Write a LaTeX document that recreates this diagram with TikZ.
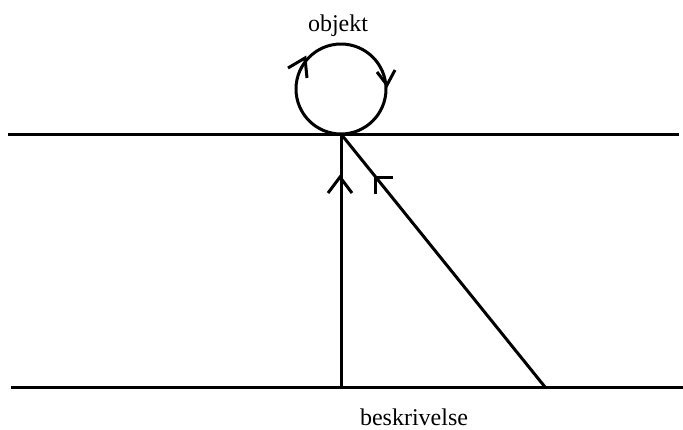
\documentclass[tikz,border=0pt]{standalone}
\usepackage{fontspec}
\setmainfont{Liberation Serif}
\begin{document}
\begin{tikzpicture}[x=1pt,y=-1pt,line width=3pt,
  lbl/.style={anchor=base,font=\fontsize{24}{28}\selectfont,inner sep=0pt},
  chev/.style={line width=3pt,line cap=butt,line join=miter}]
\useasboundingbox (0,0) rectangle (683,429);
\coordinate (tl) at (8,134);
\coordinate (tr) at (679,134);
\coordinate (bl) at (11,387);
\coordinate (br) at (683,387);
\coordinate (top) at (341,134);
\coordinate (foot) at (341,387);
\coordinate (dfoot) at (545,387);
\draw (tl) -- (tr);
\draw (bl) -- (br);
\draw (foot) -- (top);
\draw (dfoot) -- (top);
\draw (341,89) circle (45);
% chevrons
\draw[chev] (328,193) -- (340,177) -- (352,193);
\draw[chev] (375,194) -- (375,177) -- (393,177);
\draw[chev] (288,68) -- (305,58) -- (307,78);
\draw[chev] (377,72) -- (387,85) -- (395,70);
\node[lbl] (obj) at (338,31) {objekt};
\node[lbl] (besk) at (414,425) {beskrivelse};
\end{tikzpicture}
\end{document}
